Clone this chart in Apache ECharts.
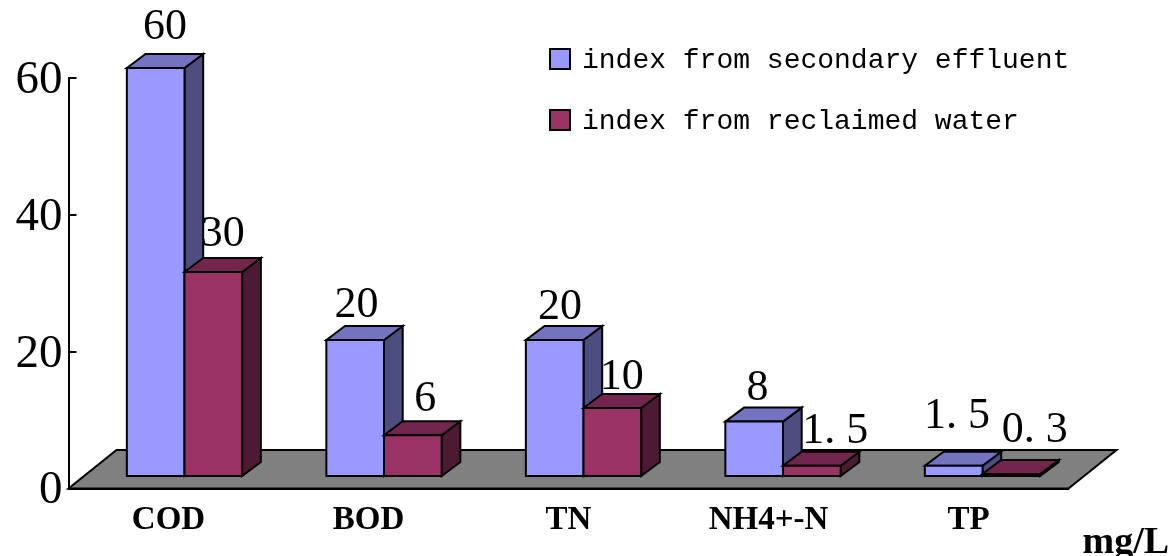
<!DOCTYPE html>
<html><head><meta charset="utf-8">
<style>html,body{margin:0;padding:0;background:#fff}#c{width:1175px;height:556px}</style>
<script src="https://cdn.jsdelivr.net/npm/echarts@6/dist/echarts.min.js"></script>
</head><body><div id="c"></div>
<script>
var categories = ['COD', 'BOD', 'TN', 'NH4+-N', 'TP'];
var secondaryValues = [60, 20, 20, 8, 1.5];
var reclaimedValues = [30, 6, 10, 1.5, 0.3];
var yTicks = [0, 20, 40, 60];
var secondaryName = 'index from secondary effluent';
var reclaimedName = 'index from reclaimed water';
var unitLabel = 'mg/L';

// label nudges relative to the top of each 3D bar
var secondaryNudgeX = [0, -8, -4, -6, -6];
var secondaryNudgeY = [-27, -21, -19, -19, -35];
var reclaimedNudgeX = [0, 3, 0, 14, 14];
var reclaimedNudgeY = [-24, -22, -17, -20, -30];

var DEPTH_X = 18.7, DEPTH_Y = -14, BAR_FRAC = 0.289;
var LABEL_FONT = '44px "Liberation Serif"';
var chart = echarts.init(document.getElementById('c'));

function poly(points, fill) {
  return { type: 'polygon', shape: { points: points },
    style: { fill: fill, stroke: '#000', lineWidth: 2, lineJoin: 'miter' } };
}
function labelText(v) {
  return String(v).split('.').map(function (p) {
    return '{d|' + p + '}';
  }).join('{p|.}');
}
function barSeries(name, values, nudgeX, nudgeY, slot, front, top, side) {
  return {
    type: 'custom', name: name, xAxisIndex: 1, yAxisIndex: 1, z: 4, clip: false, silent: true,
    itemStyle: { color: front, borderColor: '#000', borderWidth: 2 },
    data: values.map(function (v, i) { return [i, v]; }),
    renderItem: function (params, api) {
      var i = api.value(0);
      var p0 = api.coord([i, 0]), p1 = api.coord([i, api.value(1)]);
      var w = api.size([1, 0])[0] * BAR_FRAC;
      var x0 = p0[0] + slot * w, x1 = x0 + w, yb = p0[1], yt = p1[1];
      return { type: 'group', children: [
        poly([[x1, yb], [x1 + DEPTH_X, yb + DEPTH_Y], [x1 + DEPTH_X, yt + DEPTH_Y], [x1, yt]], side),
        poly([[x0, yt], [x0 + DEPTH_X, yt + DEPTH_Y], [x1 + DEPTH_X, yt + DEPTH_Y], [x1, yt]], top),
        poly([[x0, yb], [x1, yb], [x1, yt], [x0, yt]], front),
        { type: 'text', z2: 10, style: {
            x: x0 + (w + DEPTH_X) / 2 + nudgeX[i],
            y: yt + DEPTH_Y + nudgeY[i],
            text: labelText(api.value(1)),
            align: 'center', verticalAlign: 'middle', fill: '#000', font: LABEL_FONT,
            rich: { d: { font: LABEL_FONT, fill: '#000' },
                    p: { font: LABEL_FONT, fill: '#000', padding: [0, 11, 0, 0] } }
        } }
      ] };
    }
  };
}
var floorSeries = {
  type: 'custom', name: 'floor', xAxisIndex: 0, yAxisIndex: 0, z: 1, silent: true, clip: false,
  data: [[0, 0]],
  renderItem: function (params, api) {
    var c = params.coordSys, yb = c.y + c.height, dx = 48, dy = -38.5;
    return { type: 'polygon', shape: { points: [[c.x, yb], [c.x + c.width, yb],
      [c.x + c.width + dx, yb + dy], [c.x + dx, yb + dy]] },
      style: { fill: '#808080', stroke: '#000', lineWidth: 2 } };
  }
};
chart.setOption({
  animation: false,
  backgroundColor: '#fff',
  legend: {
    orient: 'vertical', left: 549, top: 47, padding: 0, itemWidth: 20, itemHeight: 20, itemGap: 33,
    selectedMode: false,
    itemStyle: { borderColor: '#000', borderWidth: 2 },
    formatter: function (n) { return '{t|' + n + '}'; },
    textStyle: { fontFamily: '"Liberation Mono"', fontSize: 28, color: '#000',
      rich: { t: { fontFamily: '"Liberation Mono"', fontSize: 28, color: '#000', padding: [4, 0, 0, 7] } } },
    data: [
      { name: secondaryName, icon: 'rect', itemStyle: { color: '#9999ff' } },
      { name: reclaimedName, icon: 'rect', itemStyle: { color: '#993366' } }
    ]
  },
  grid: [
    { left: 68.5, top: 78, width: 1000, height: 410.5, outerBoundsMode: 'none' },
    { left: 84.75, top: 68, width: 997.5, height: 408, outerBoundsMode: 'none' }
  ],
  xAxis: [
    { type: 'category', gridIndex: 0, data: categories, z: 3,
      name: unitLabel, nameLocation: 'end', nameGap: 14,
      nameTextStyle: { fontFamily: '"Liberation Serif"', fontWeight: 'bold', fontSize: 38, color: '#000',
        verticalAlign: 'top', padding: [36, 0, 0, 0] },
      axisLine: { lineStyle: { color: '#000', width: 2 } },
      axisTick: { inside: true, length: 8, alignWithLabel: false, lineStyle: { color: '#000', width: 2 } },
      axisLabel: { fontFamily: '"Liberation Serif"', fontWeight: 'bold', fontSize: 33, color: '#000', margin: 15 } },
    { type: 'category', gridIndex: 1, data: categories, show: false }
  ],
  yAxis: [
    { type: 'value', gridIndex: 0, min: yTicks[0], max: yTicks[yTicks.length - 1], interval: yTicks[1] - yTicks[0], z: 3,
      splitLine: { show: false },
      axisLine: { show: true, lineStyle: { color: '#000', width: 2 } },
      axisTick: { show: true, inside: true, length: 8, lineStyle: { color: '#000', width: 2 } },
      axisLabel: { fontFamily: '"Liberation Serif"', fontSize: 47, color: '#000', margin: 6,
        formatter: '{v|{value}}',
        rich: { v: { fontFamily: '"Liberation Serif"', fontSize: 47, color: '#000', padding: [5, 0, 0, 0] } } } },
    { type: 'value', gridIndex: 1, min: yTicks[0], max: yTicks[yTicks.length - 1], show: false }
  ],
  series: [
    floorSeries,
    barSeries(secondaryName, secondaryValues, secondaryNudgeX, secondaryNudgeY, -1, '#9999ff', '#7373bf', '#4d4d80'),
    barSeries(reclaimedName, reclaimedValues, reclaimedNudgeX, reclaimedNudgeY, 0, '#993366', '#73264d', '#4d1a33')
  ]
});
</script></body></html>
